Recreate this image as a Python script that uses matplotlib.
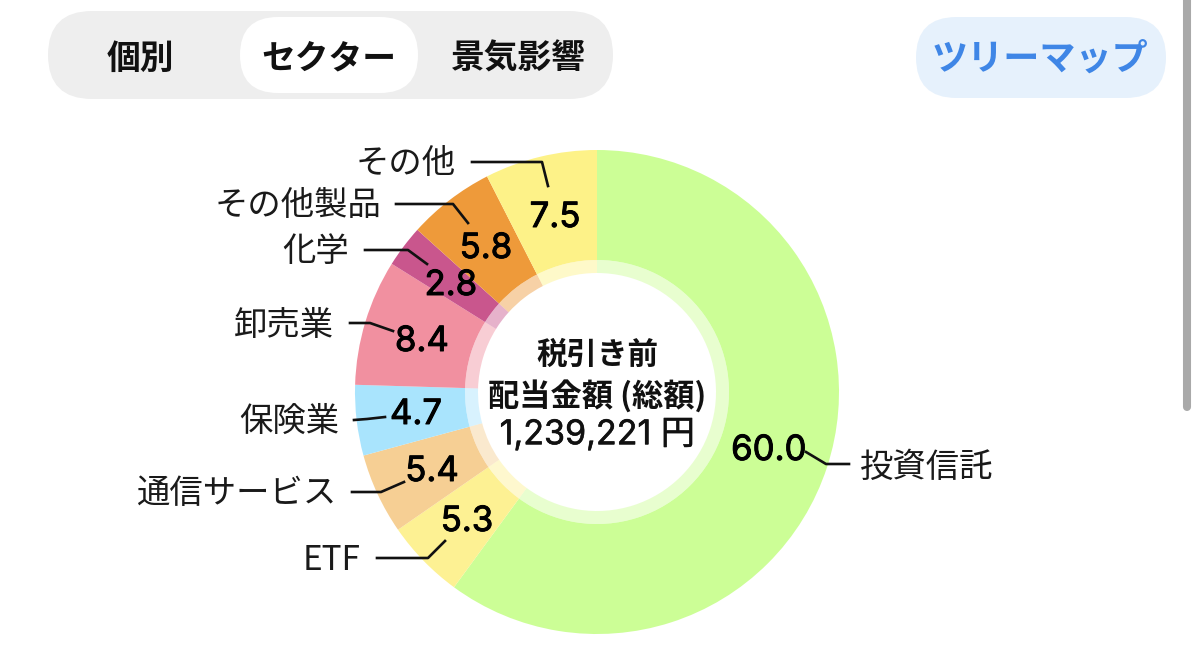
import matplotlib
matplotlib.use("Agg")
import matplotlib.pyplot as plt
import matplotlib.patheffects as pe
from matplotlib.patches import FancyBboxPatch

plt.rcParams['font.family'] = ['Noto Sans CJK JP', 'DejaVu Sans']
NUM_FONT = ['Inter', 'Noto Sans CJK JP']

# Data
sectors = ['投資信託', 'ETF', '通信サービス', '保険業', '卸売業', '化学', 'その他製品', 'その他']
values = [60.0, 5.3, 5.4, 4.7, 8.4, 2.8, 5.8, 7.5]
colors = ['#ccfe96', '#fdf193', '#f6cf94', '#a9e4fd', '#f190a0', '#c9568d', '#ee9a3a', '#fdf288']
tabs = ['個別', 'セクター', '景気影響']
center_lines = ['税引き前', '配当金額 (総額)', '1,239,221 円']

# Layout (pixel positions)
W, H = 1200, 666
CX, CY, R_OUT, R_MID, R_IN = 597, 392, 242, 132, 119
value_pos = [(769, 451), (467, 522), (432, 472), (416, 415), (422, 342), (451, 286), (486, 249), (555, 218)]
name_pos = [(860, 467, 'left'), (361, 561, 'right'), (336, 493, 'right'), (339, 421, 'right'),
            (334, 325, 'right'), (349, 251, 'right'), (381, 206, 'right'), (456, 163, 'right')]
leaders = [[(806, 452), (826, 464), (849, 464)],
           [(377, 558), (428, 558), (445, 541)],
           [(352, 492), (381, 492), (404, 482)],
           [(354, 420), (367, 419), (385, 417)],
           [(350, 323), (370, 323), (393, 331)],
           [(365, 250), (408, 250), (427, 264)],
           [(396, 204), (453, 204), (468, 223)],
           [(472, 162), (542, 162), (548, 186)]]

fig = plt.figure(figsize=(12, 6.66), dpi=100, facecolor='white')
ax = fig.add_axes([0, 0, 1, 1])
ax.set_xlim(0, W)
ax.set_ylim(0, H)
ax.set_aspect('equal')
ax.axis('off')

def Y(y):
    return H - y

def pill(x0, y0, x1, y1, color, z=1):
    h = y1 - y0
    ax.add_patch(FancyBboxPatch((x0 + h / 2, Y(y1) + h / 2), x1 - x0 - h, 0.0001,
                                boxstyle=f'round,pad={h/2},rounding_size={h/2}',
                                fc=color, ec='none', zorder=z))

pill(48, 11, 613, 99, '#eeeeee')
pill(240, 17, 418, 93, '#ffffff', 2)
pill(916, 17, 1166, 98, '#e6f1fc')
# scrollbar: vertical round-capped stroke
ax.plot([1187, 1187], [Y(-10), Y(407)], color='#a9a9a9', lw=5.8, solid_capstyle='round', zorder=1)

for t, x in zip(tabs, [140, 329, 518]):
    ax.text(x, Y(58), t, ha='center', va='center', fontsize=24.3, fontweight='bold', color='#111111', zorder=3)
ax.text(1040, Y(59), 'ツリーマップ', ha='center', va='center', fontsize=26, fontweight='bold', color='#3f86e6', zorder=3)

# Outer ring
ax.pie(values, colors=colors, startangle=90, counterclock=False, center=(CX, Y(CY)), radius=R_OUT,
       wedgeprops=dict(width=R_OUT - R_MID, linewidth=0), frame=False)
# Translucent inner ring
ax.pie(values, colors=colors, startangle=90, counterclock=False, center=(CX, Y(CY)), radius=R_MID,
       wedgeprops=dict(width=R_MID - R_IN, linewidth=0, alpha=0.45), frame=False)
ax.set_xlim(0, W)
ax.set_ylim(0, H)

stroke = [pe.withStroke(linewidth=0.7, foreground='black')]
for pts in leaders:
    ax.plot([p[0] for p in pts], [Y(p[1]) for p in pts], color='#111111', lw=1.9, zorder=4,
            solid_joinstyle='round')
for v, (x, y) in zip(values, value_pos):
    ax.text(x, Y(y), f'{v:.1f}', ha='center', va='center', fontsize=25,
            family=NUM_FONT, color='black', zorder=5, path_effects=stroke)
for s, (x, y, ha) in zip(sectors, name_pos):
    ax.text(x, Y(y), s, ha=ha, va='center', fontsize=24, fontweight='normal', color='#1a1a1a', zorder=5)

ax.text(597, Y(355), center_lines[0], ha='center', va='center', fontsize=22, fontweight='bold', color='#111111', zorder=5)
ax.text(597, Y(396), center_lines[1], ha='center', va='center', fontsize=22.5, fontweight='bold', color='#111111', zorder=5)
ax.text(597, Y(435), center_lines[2], ha='center', va='center', fontsize=24.5,
        family=NUM_FONT, color='#111111', zorder=5, path_effects=[pe.withStroke(linewidth=0.4, foreground='#111111')])

fig.savefig('out.png', dpi=100, facecolor='white')
